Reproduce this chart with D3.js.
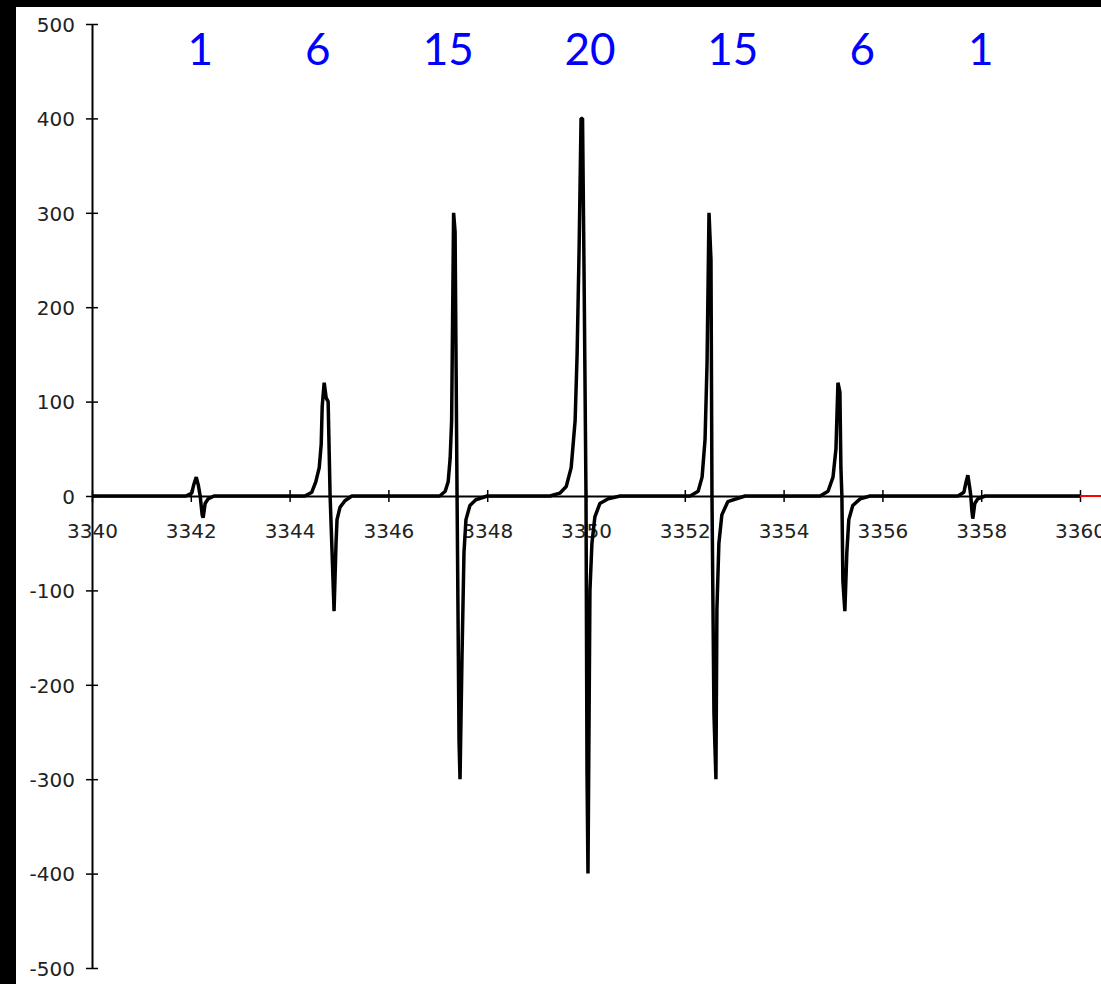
<!DOCTYPE html>
<html lang="en">
<head>
<meta charset="UTF-8">
<title>EPR spectrum</title>
<script src="https://d3js.org/d3.v7.min.js"></script>
<style>
    html, body {
        margin: 0;
        padding: 0;
        background: #000;
    }
    svg {
        display: block;
    }
    .tick-label {
        font-family: "DejaVu Sans", sans-serif;
        font-size: 20px;
        fill: #222;
    }
    .multiplicity {
        font-family: Lato, sans-serif;
        font-size: 44px;
        fill: #0000ff;
    }
</style>
</head>
<body>
<svg id="chart" width="1101" height="984"></svg>
<script>
// field (G) / signal pairs, one array per hyperfine line
const line1 = [[3341.90, 0], [3342.02, 3], [3342.06, 12], [3342.11, 20], [3342.15, 12], [3342.19, 0],
    [3342.23, -20], [3342.25, -23], [3342.29, -8], [3342.35, -3], [3342.47, 0]];
const line2 = [[3344.31, 0], [3344.45, 4], [3344.53, 15], [3344.60, 30], [3344.64, 55], [3344.66, 95],
    [3344.70, 120], [3344.74, 104], [3344.78, 100], [3344.82, 0], [3344.86, -60], [3344.90, -122],
    [3344.94, -50], [3344.96, -25], [3345.02, -12], [3345.12, -5], [3345.26, 0]];
const line3 = [[3347.04, 0], [3347.15, 5], [3347.21, 15], [3347.25, 40], [3347.28, 80], [3347.30, 190],
    [3347.32, 300], [3347.35, 280], [3347.39, 0], [3347.43, -260], [3347.45, -300], [3347.49, -170],
    [3347.53, -60], [3347.57, -25], [3347.65, -10], [3347.77, -4], [3348.00, 0]];
const line4 = [[3349.27, 0], [3349.47, 3], [3349.60, 10], [3349.70, 30], [3349.78, 80], [3349.82, 150],
    [3349.86, 260], [3349.90, 400], [3349.93, 400], [3349.96, 240], [3350.00, 0], [3350.02, -290],
    [3350.04, -400], [3350.08, -100], [3350.12, -50], [3350.18, -22], [3350.28, -8], [3350.45, -3],
    [3350.69, 0]];
const line5 = [[3352.11, 0], [3352.27, 5], [3352.35, 20], [3352.41, 60], [3352.45, 140], [3352.49, 300],
    [3352.53, 250], [3352.55, 0], [3352.59, -230], [3352.63, -300], [3352.65, -120], [3352.69, -50],
    [3352.75, -20], [3352.87, -6], [3353.22, 0]];
const line6 = [[3354.74, 0], [3354.90, 5], [3355.00, 20], [3355.06, 50], [3355.10, 120], [3355.14, 110],
    [3355.16, 30], [3355.18, 0], [3355.20, -90], [3355.24, -122], [3355.28, -60], [3355.32, -25],
    [3355.40, -10], [3355.55, -3], [3355.75, 0]];
const line7 = [[3357.53, 0], [3357.65, 4], [3357.69, 14], [3357.73, 22], [3357.77, 8], [3357.79, 0],
    [3357.81, -15], [3357.83, -24], [3357.87, -8], [3357.93, -3], [3358.08, 0]];

const redField = [3360, 3361];
const redSignal = [0, 0];

const multiplicity = ["1", "6", "15", "20", "15", "6", "1"];
const labelFields = [3342.19, 3344.57, 3347.21, 3350.08, 3352.97, 3355.59, 3357.99];

const xTicks = [3340, 3342, 3344, 3346, 3348, 3350, 3352, 3354, 3356, 3358, 3360];
const yTicks = [-500, -400, -300, -200, -100, 0, 100, 200, 300, 400, 500];

const spectrum = [[3340, 0]].concat(line1, line2, line3, line4, line5, line6, line7, [[3360, 0]]);

const svg = d3.select("#chart");

// white plot area inside the black frame
svg.append("rect")
    .attr("x", 16).attr("y", 7)
    .attr("width", 1101).attr("height", 984)
    .attr("fill", "#fff");

const x = d3.scaleLinear().domain([3340, 3360]).range([92, 1080]);
const y = d3.scaleLinear().domain([-500, 500]).range([968, 24]);

// x axis through zero
const xAxis = svg.append("g")
    .attr("transform", `translate(0,${y(0)})`)
    .call(d3.axisBottom(x).tickValues(xTicks).tickFormat(d => String(d)).tickSizeOuter(0));
xAxis.selectAll(".tick line").attr("y1", -6).attr("y2", 6).attr("stroke", "#000").attr("stroke-width", 1.5);
xAxis.selectAll(".tick text")
    .attr("class", "tick-label")
    .attr("y", 42).attr("dy", 0)
    .attr("font-family", null).attr("font-size", null).attr("fill", null);
xAxis.select(".domain").attr("stroke", "#000").attr("stroke-width", 2);
xAxis.attr("font-family", null).attr("font-size", null);

// y axis at 3340, plain hyphen for negatives
const yAxis = svg.append("g")
    .attr("transform", `translate(${x(3340)},0)`)
    .call(d3.axisLeft(y).tickValues(yTicks).tickFormat(d => String(d)).tickSizeOuter(0));
yAxis.selectAll(".tick line").attr("x1", -6).attr("x2", 6).attr("stroke", "#000").attr("stroke-width", 1.5);
yAxis.selectAll(".tick text")
    .attr("class", "tick-label")
    .attr("x", -17).attr("dy", "0.36em")
    .attr("font-family", null).attr("font-size", null).attr("fill", null);
yAxis.select(".domain").attr("stroke", "#000").attr("stroke-width", 2);
yAxis.attr("font-family", null).attr("font-size", null);

const line = d3.line()
    .x(d => x(d[0]))
    .y(d => y(d[1]));

// second (red) series continuing past the axis end
svg.append("path")
    .datum(redField.map((f, i) => [f, redSignal[i]]))
    .attr("d", line)
    .attr("fill", "none")
    .attr("stroke", "#ff0000")
    .attr("stroke-width", 2);

svg.append("path")
    .datum(spectrum)
    .attr("d", line)
    .attr("fill", "none")
    .attr("stroke", "#000")
    .attr("stroke-width", 3.5)
    .attr("stroke-linejoin", "bevel");

// intensity ratios above each line
svg.selectAll(".multiplicity")
    .data(multiplicity)
    .enter()
    .append("text")
    .attr("class", "multiplicity")
    .attr("x", (d, i) => x(labelFields[i]))
    .attr("y", 65)
    .attr("text-anchor", "middle")
    .text(d => d);
</script>
</body>
</html>
